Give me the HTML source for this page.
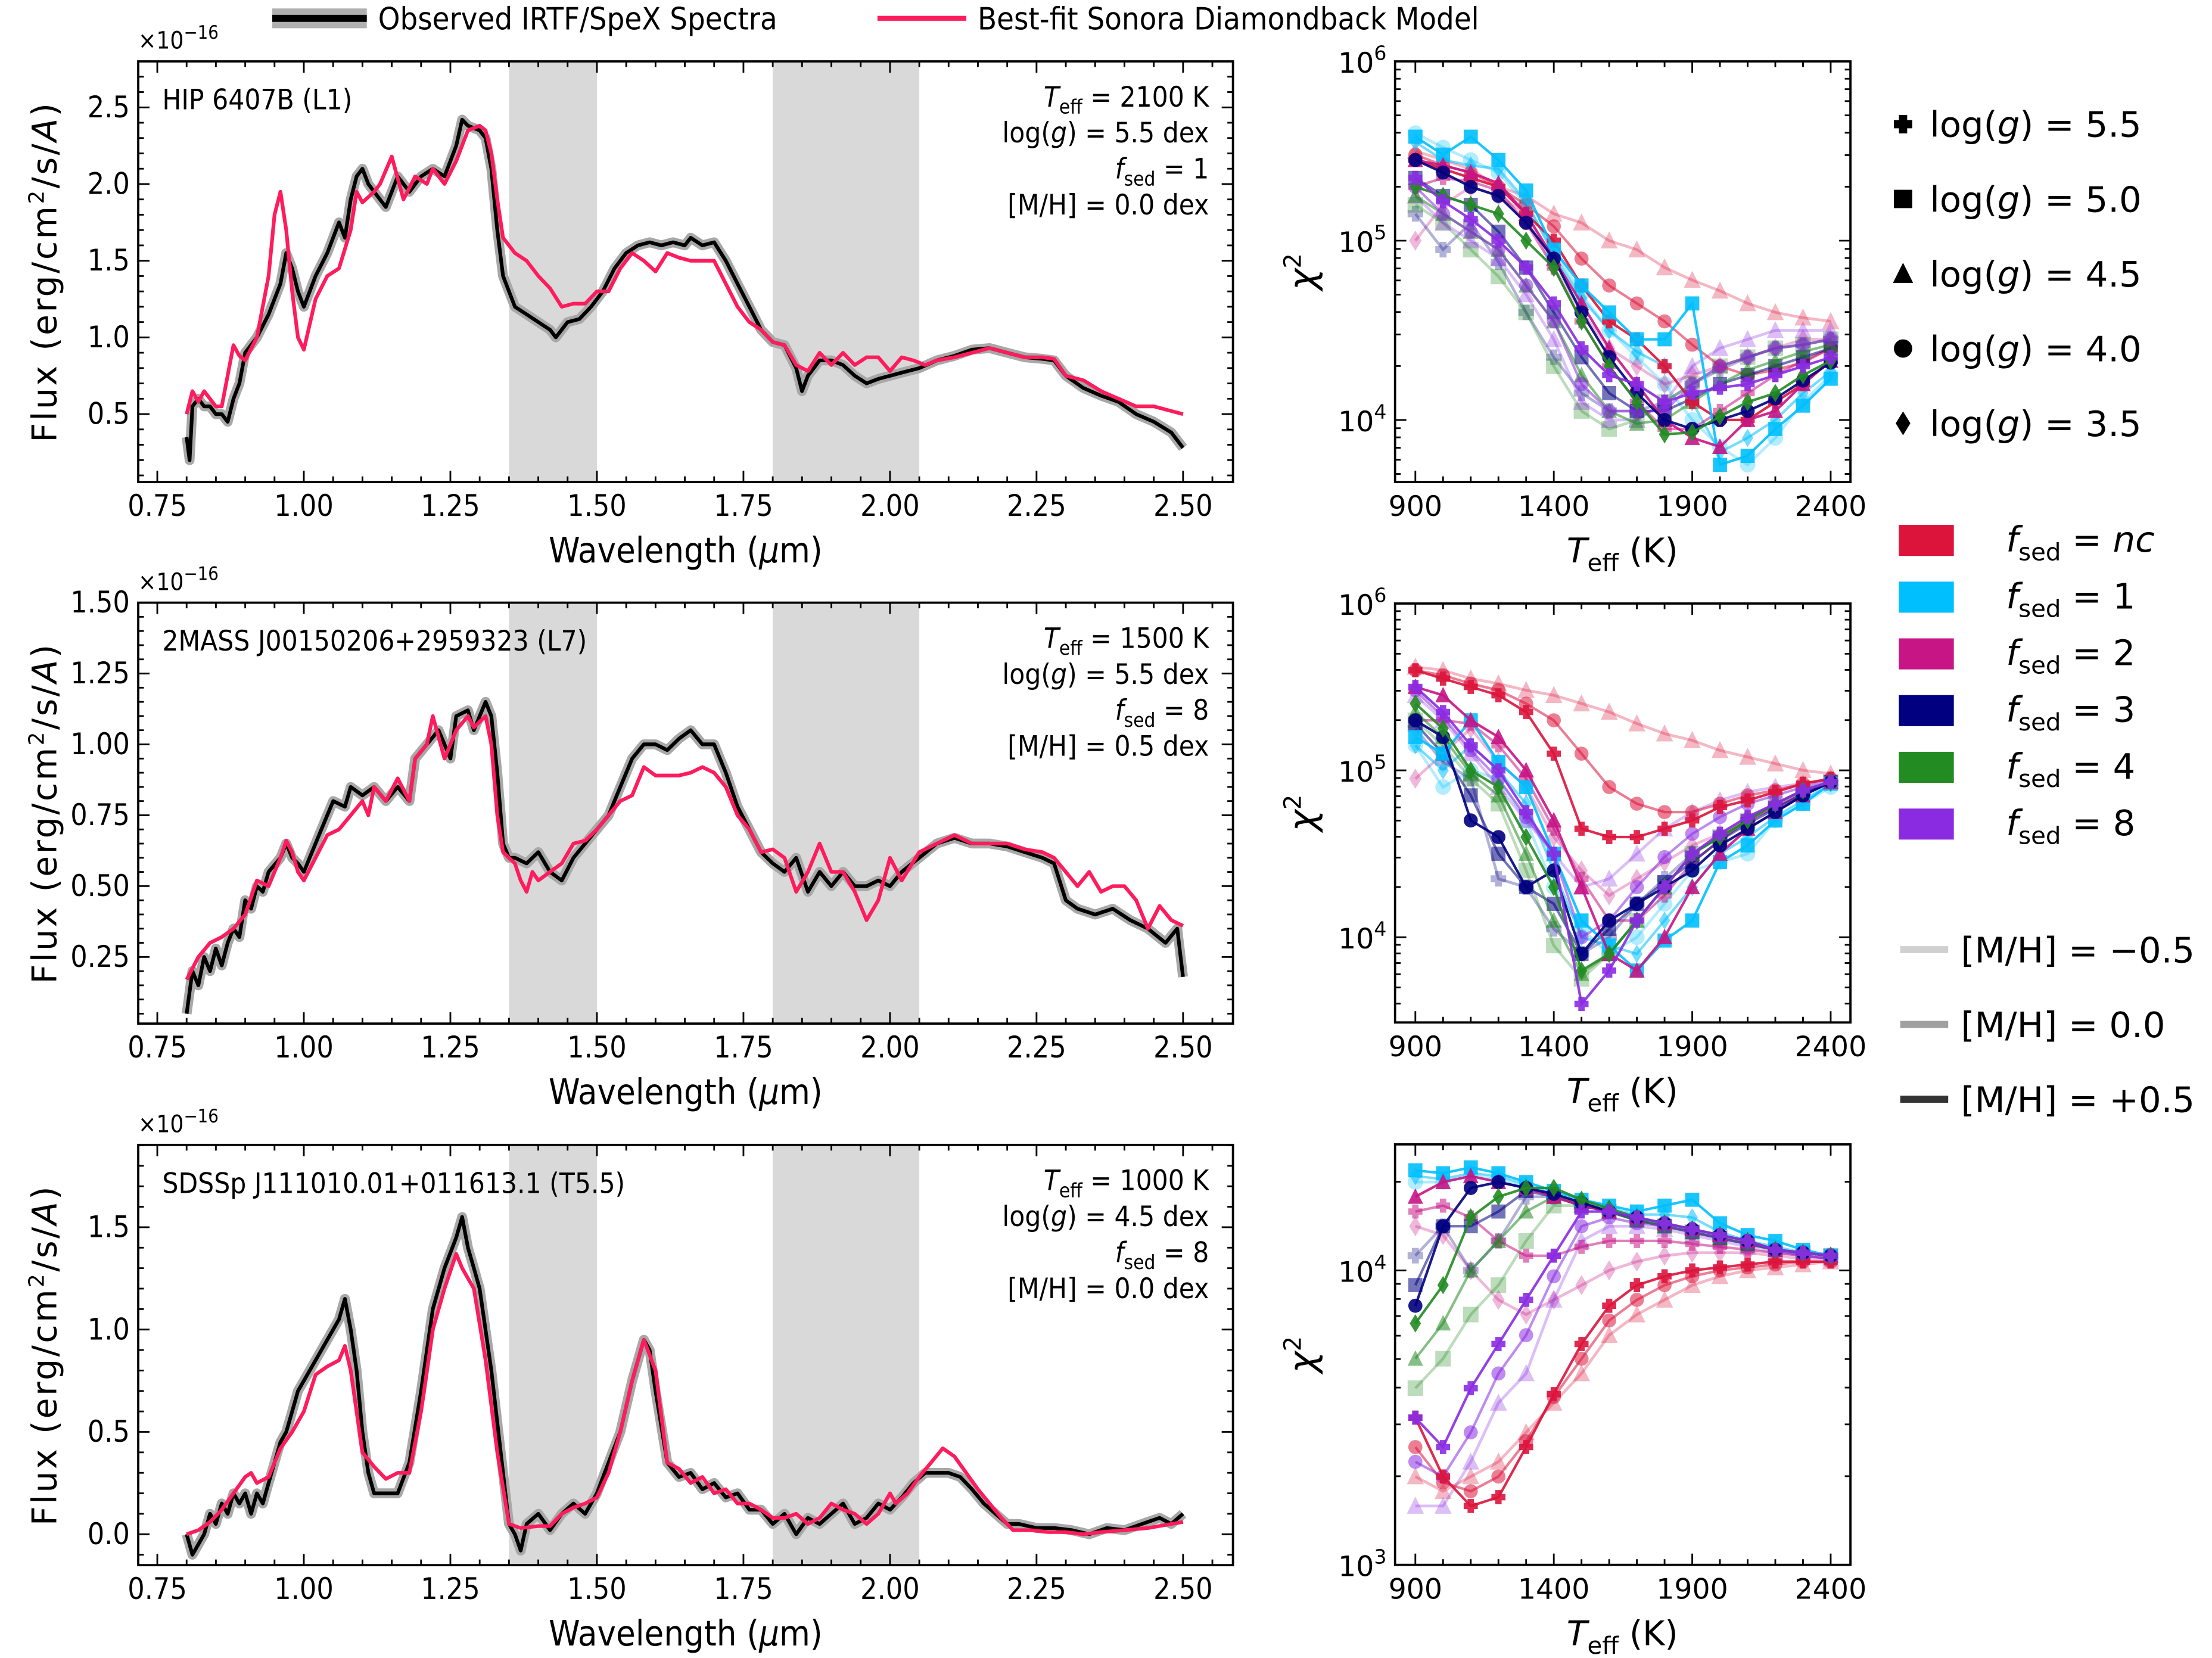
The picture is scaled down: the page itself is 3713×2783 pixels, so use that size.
<!DOCTYPE html>
<html><head><meta charset="utf-8">
<style>
html,body{margin:0;padding:0;background:#fff;}
svg{display:block;font-family:"DejaVu Sans","Liberation Sans",sans-serif;}
.cond{font-family:"DejaVu Sans Condensed","DejaVu Sans","Liberation Sans",sans-serif;font-stretch:condensed;}
</style></head>
<body>
<svg id="fig" width="3713" height="2783" viewBox="0 0 1568 1175" preserveAspectRatio="none" xmlns="http://www.w3.org/2000/svg">
<defs>
<clipPath id="cl0"><rect x="98" y="43.5" width="776" height="298.1"/></clipPath>
<clipPath id="cl1"><rect x="98" y="427.1" width="776" height="298.3"/></clipPath>
<clipPath id="cl2"><rect x="98" y="811.4" width="776" height="297.8"/></clipPath>
<clipPath id="cc0"><rect x="988.9" y="43.5" width="322.8" height="298.1"/></clipPath>
<clipPath id="cc1"><rect x="988.9" y="427.7" width="322.8" height="296.9"/></clipPath>
<clipPath id="cc2"><rect x="988.9" y="811" width="322.8" height="298"/></clipPath>
</defs>
<g id="root"></g>
</svg>
<script>
// ---------- spectra data ----------
const p1Obs=[[0.80,0.35],[0.805,0.2],[0.81,0.55],[0.82,0.6],[0.83,0.55],[0.84,0.55],[0.85,0.5],[0.86,0.5],[0.87,0.45],[0.88,0.6],[0.89,0.7],[0.90,0.9],[0.92,1.0],[0.94,1.15],[0.96,1.35],[0.97,1.55],[0.98,1.45],[0.99,1.3],[1.00,1.2],[1.02,1.4],[1.04,1.55],[1.06,1.75],[1.07,1.65],[1.08,1.9],[1.09,2.05],[1.10,2.1],[1.11,2.0],[1.12,1.95],[1.14,1.85],[1.16,2.05],[1.18,1.95],[1.20,2.05],[1.22,2.1],[1.24,2.05],[1.26,2.25],[1.27,2.42],[1.28,2.38],[1.30,2.35],[1.31,2.3],[1.32,2.1],[1.33,1.7],[1.34,1.4],[1.35,1.3],[1.36,1.2],[1.38,1.15],[1.40,1.1],[1.42,1.05],[1.43,1.0],[1.45,1.1],[1.47,1.12],[1.49,1.2],[1.51,1.3],[1.53,1.45],[1.55,1.55],[1.57,1.6],[1.59,1.62],[1.61,1.6],[1.63,1.62],[1.65,1.6],[1.66,1.65],[1.68,1.6],[1.70,1.62],[1.72,1.5],[1.74,1.35],[1.76,1.2],[1.78,1.05],[1.80,0.97],[1.82,0.95],[1.84,0.8],[1.85,0.65],[1.86,0.75],[1.88,0.85],[1.90,0.85],[1.92,0.82],[1.94,0.75],[1.96,0.7],[1.98,0.73],[2.00,0.75],[2.02,0.77],[2.05,0.8],[2.08,0.85],[2.11,0.88],[2.14,0.92],[2.17,0.93],[2.20,0.9],[2.23,0.87],[2.26,0.86],[2.28,0.85],[2.30,0.75],[2.33,0.67],[2.36,0.62],[2.39,0.58],[2.42,0.5],[2.45,0.45],[2.48,0.38],[2.50,0.28]];
const p1Mod=[[0.80,0.5],[0.81,0.65],[0.82,0.58],[0.83,0.65],[0.85,0.55],[0.86,0.55],[0.88,0.95],[0.89,0.88],[0.90,0.85],[0.92,1.0],[0.94,1.4],[0.95,1.8],[0.96,1.95],[0.97,1.7],[0.98,1.3],[0.99,1.0],[1.00,0.92],[1.02,1.25],[1.04,1.4],[1.06,1.45],[1.08,1.7],[1.09,1.95],[1.10,1.88],[1.12,1.95],[1.13,2.0],[1.15,2.18],[1.17,1.9],[1.19,2.05],[1.21,2.0],[1.22,2.1],[1.24,2.0],[1.26,2.15],[1.28,2.35],[1.30,2.38],[1.31,2.35],[1.32,2.2],[1.33,1.9],[1.34,1.65],[1.36,1.55],[1.38,1.5],[1.40,1.4],[1.42,1.32],[1.44,1.2],[1.46,1.22],[1.48,1.22],[1.50,1.3],[1.52,1.3],[1.54,1.45],[1.56,1.55],[1.58,1.5],[1.60,1.43],[1.62,1.55],[1.64,1.52],[1.66,1.5],[1.68,1.5],[1.70,1.5],[1.72,1.35],[1.74,1.2],[1.76,1.1],[1.78,1.05],[1.80,0.97],[1.82,0.95],[1.84,0.82],[1.86,0.78],[1.88,0.9],[1.90,0.82],[1.92,0.9],[1.94,0.82],[1.96,0.87],[1.98,0.87],[2.00,0.78],[2.02,0.87],[2.04,0.85],[2.06,0.82],[2.08,0.85],[2.11,0.87],[2.14,0.9],[2.17,0.93],[2.20,0.9],[2.23,0.87],[2.26,0.87],[2.28,0.86],[2.30,0.75],[2.33,0.72],[2.36,0.65],[2.39,0.6],[2.42,0.55],[2.45,0.55],[2.48,0.52],[2.50,0.5]];
const p2Obs=[[0.80,0.05],[0.81,0.2],[0.82,0.15],[0.83,0.25],[0.84,0.2],[0.85,0.28],[0.86,0.22],[0.87,0.3],[0.88,0.35],[0.89,0.32],[0.90,0.45],[0.91,0.42],[0.92,0.5],[0.93,0.48],[0.94,0.55],[0.96,0.6],[0.97,0.65],[0.98,0.6],[0.99,0.58],[1.00,0.55],[1.01,0.6],[1.03,0.7],[1.05,0.8],[1.07,0.78],[1.08,0.85],[1.10,0.82],[1.12,0.85],[1.14,0.8],[1.16,0.85],[1.18,0.8],[1.19,0.95],[1.21,1.0],[1.23,1.05],[1.25,0.95],[1.26,1.1],[1.28,1.12],[1.29,1.05],[1.31,1.15],[1.32,1.1],[1.33,0.9],[1.34,0.65],[1.35,0.6],[1.36,0.6],[1.38,0.58],[1.40,0.62],[1.42,0.55],[1.44,0.52],[1.46,0.6],[1.48,0.65],[1.50,0.7],[1.52,0.75],[1.54,0.85],[1.56,0.95],[1.58,1.0],[1.60,1.0],[1.62,0.98],[1.64,1.02],[1.66,1.05],[1.68,1.0],[1.70,1.0],[1.72,0.9],[1.74,0.78],[1.76,0.7],[1.78,0.62],[1.80,0.58],[1.82,0.55],[1.84,0.6],[1.86,0.48],[1.88,0.55],[1.90,0.5],[1.92,0.55],[1.94,0.5],[1.96,0.5],[1.98,0.52],[2.00,0.5],[2.02,0.55],[2.05,0.6],[2.08,0.65],[2.11,0.67],[2.14,0.65],[2.17,0.65],[2.20,0.64],[2.23,0.62],[2.26,0.6],[2.28,0.58],[2.30,0.45],[2.32,0.42],[2.35,0.4],[2.38,0.42],[2.41,0.38],[2.44,0.35],[2.47,0.3],[2.49,0.35],[2.50,0.18]];
const p2Mod=[[0.80,0.17],[0.82,0.25],[0.84,0.3],[0.86,0.32],[0.88,0.35],[0.90,0.4],[0.92,0.52],[0.94,0.5],[0.96,0.6],[0.97,0.66],[0.98,0.62],[0.99,0.55],[1.00,0.52],[1.02,0.6],[1.04,0.68],[1.06,0.7],[1.08,0.75],[1.10,0.8],[1.11,0.75],[1.12,0.85],[1.14,0.8],[1.16,0.88],[1.18,0.8],[1.19,0.95],[1.21,1.0],[1.22,1.1],[1.24,0.95],[1.26,1.05],[1.28,1.1],[1.29,1.06],[1.31,1.1],[1.32,1.0],[1.33,0.75],[1.34,0.62],[1.36,0.58],[1.37,0.52],[1.38,0.48],[1.39,0.55],[1.40,0.52],[1.42,0.55],[1.44,0.58],[1.46,0.65],[1.48,0.66],[1.50,0.7],[1.52,0.75],[1.54,0.8],[1.56,0.82],[1.58,0.92],[1.60,0.89],[1.62,0.89],[1.64,0.89],[1.66,0.9],[1.68,0.92],[1.70,0.9],[1.72,0.85],[1.74,0.75],[1.76,0.7],[1.78,0.62],[1.80,0.63],[1.82,0.6],[1.84,0.48],[1.86,0.55],[1.88,0.65],[1.90,0.55],[1.92,0.55],[1.94,0.48],[1.96,0.38],[1.98,0.45],[2.00,0.6],[2.02,0.52],[2.05,0.62],[2.08,0.65],[2.11,0.68],[2.14,0.65],[2.17,0.65],[2.20,0.65],[2.23,0.63],[2.26,0.62],[2.28,0.6],[2.30,0.55],[2.32,0.5],[2.34,0.55],[2.36,0.48],[2.38,0.5],[2.40,0.5],[2.42,0.45],[2.44,0.35],[2.46,0.43],[2.48,0.38],[2.50,0.36]];
const p3Obs=[[0.80,0.0],[0.81,-0.1],[0.82,-0.05],[0.83,0.0],[0.84,0.1],[0.85,0.05],[0.86,0.15],[0.87,0.1],[0.88,0.2],[0.89,0.15],[0.90,0.2],[0.91,0.1],[0.92,0.2],[0.93,0.15],[0.94,0.25],[0.95,0.35],[0.96,0.45],[0.97,0.5],[0.98,0.6],[0.99,0.7],[1.00,0.75],[1.02,0.85],[1.04,0.95],[1.06,1.05],[1.07,1.15],[1.08,1.0],[1.09,0.8],[1.10,0.5],[1.11,0.3],[1.12,0.2],[1.14,0.2],[1.16,0.2],[1.18,0.35],[1.20,0.7],[1.22,1.1],[1.24,1.3],[1.26,1.45],[1.27,1.55],[1.28,1.4],[1.29,1.3],[1.30,1.2],[1.32,0.8],[1.34,0.3],[1.35,0.05],[1.36,0.0],[1.37,-0.08],[1.38,0.05],[1.40,0.1],[1.42,0.02],[1.44,0.1],[1.46,0.15],[1.48,0.1],[1.50,0.2],[1.52,0.35],[1.54,0.5],[1.56,0.75],[1.58,0.95],[1.59,0.9],[1.60,0.7],[1.62,0.35],[1.64,0.28],[1.66,0.3],[1.68,0.22],[1.70,0.25],[1.72,0.18],[1.74,0.2],[1.76,0.12],[1.78,0.12],[1.80,0.05],[1.82,0.1],[1.84,0.0],[1.86,0.08],[1.88,0.05],[1.90,0.1],[1.92,0.15],[1.94,0.05],[1.96,0.08],[1.98,0.15],[2.00,0.12],[2.02,0.18],[2.04,0.25],[2.06,0.3],[2.08,0.3],[2.10,0.3],[2.12,0.28],[2.14,0.22],[2.16,0.15],[2.18,0.1],[2.20,0.05],[2.22,0.05],[2.25,0.03],[2.28,0.03],[2.31,0.02],[2.34,0.0],[2.37,0.03],[2.40,0.02],[2.43,0.05],[2.46,0.08],[2.48,0.05],[2.50,0.1]];
const p3Mod=[[0.80,0.0],[0.82,0.02],[0.84,0.06],[0.86,0.12],[0.88,0.2],[0.90,0.28],[0.91,0.3],[0.92,0.25],[0.94,0.28],[0.96,0.42],[0.98,0.5],[1.00,0.6],[1.02,0.78],[1.04,0.82],[1.06,0.85],[1.07,0.92],[1.08,0.8],[1.10,0.4],[1.12,0.33],[1.14,0.27],[1.16,0.3],[1.18,0.3],[1.20,0.6],[1.22,1.0],[1.24,1.2],[1.26,1.37],[1.27,1.3],[1.29,1.2],[1.31,0.85],[1.33,0.4],[1.35,0.05],[1.37,0.03],[1.40,0.04],[1.42,0.04],[1.44,0.1],[1.46,0.13],[1.48,0.15],[1.50,0.18],[1.52,0.3],[1.54,0.5],[1.56,0.75],[1.58,0.95],[1.60,0.8],[1.62,0.35],[1.64,0.32],[1.66,0.25],[1.68,0.28],[1.70,0.2],[1.72,0.22],[1.74,0.15],[1.76,0.15],[1.78,0.12],[1.80,0.08],[1.82,0.08],[1.84,0.1],[1.86,0.05],[1.88,0.08],[1.90,0.15],[1.92,0.12],[1.94,0.1],[1.96,0.05],[1.98,0.1],[2.00,0.2],[2.01,0.15],[2.03,0.2],[2.05,0.28],[2.07,0.35],[2.09,0.42],[2.11,0.38],[2.13,0.3],[2.15,0.22],[2.17,0.15],[2.19,0.08],[2.21,0.02],[2.24,0.02],[2.27,0.01],[2.30,0.01],[2.33,0.0],[2.36,0.01],[2.40,0.02],[2.44,0.03],[2.48,0.05],[2.50,0.06]];

// ---------- chi2 data (log10 chi2) ----------
const teffGrid=[900,1000,1100,1200,1300,1400,1500,1600,1700,1800,1900,2000,2100,2200,2300,2400];
const fsedNames=['nc','1','2','3','4','8'];
const fsedColors=['#dc143c','#00bfff','#c71585','#000080','#228b22','#8a2be2'];
const c1Strong=[[5.45,5.4,5.35,5.3,5.15,5.0,4.75,4.55,4.45,4.3,4.1,4.0,4.0,4.1,4.2,4.33],[5.58,5.48,5.58,5.45,5.28,4.95,4.75,4.6,4.45,4.45,4.65,3.75,3.8,3.95,4.08,4.23],[5.45,5.42,5.38,5.32,5.15,4.9,4.65,4.4,4.2,4.0,3.9,3.85,4.0,4.05,4.2,4.33],[5.45,5.38,5.3,5.25,5.1,4.9,4.6,4.35,4.15,4.0,3.95,4.0,4.05,4.12,4.22,4.32],[5.3,5.25,5.2,5.15,5.0,4.85,4.55,4.3,4.1,3.92,3.93,4.02,4.1,4.15,4.25,4.33],[5.35,5.22,5.12,5.0,4.85,4.65,4.4,4.25,4.2,4.1,4.15,4.18,4.2,4.25,4.3,4.35]];
const c1Mid=[[5.48,5.42,5.38,5.3,5.2,5.08,4.9,4.75,4.65,4.55,4.42,4.3,4.25,4.28,4.32,4.4],[5.55,5.45,5.42,5.4,5.22,4.92,4.68,4.5,4.38,4.3,4.1,3.82,3.9,4.0,4.15,4.27],[5.3,5.35,5.33,5.28,5.1,4.85,4.55,4.3,4.1,3.95,3.95,4.05,4.15,4.25,4.33,4.4],[5.35,5.25,5.2,5.05,4.85,4.6,4.35,4.15,4.05,4.05,4.12,4.2,4.25,4.3,4.35,4.4],[5.25,5.15,5.05,4.95,4.75,4.55,4.25,4.05,3.98,4.0,4.1,4.2,4.28,4.33,4.38,4.42],[5.3,5.15,5.05,4.95,4.75,4.55,4.2,4.05,4.05,4.05,4.2,4.3,4.35,4.4,4.42,4.45]];
const c1Faint=[[5.5,5.45,5.4,5.3,5.25,5.15,5.1,5.0,4.95,4.85,4.78,4.72,4.65,4.6,4.57,4.55],[5.6,5.52,5.45,5.38,5.2,4.95,4.7,4.5,4.35,4.2,4.0,3.85,3.75,3.9,4.1,4.25],[5.0,5.2,5.3,5.25,5.15,4.85,4.6,4.4,4.3,4.2,4.25,4.3,4.35,4.4,4.45,4.45],[5.15,4.95,5.1,4.88,4.6,4.35,4.15,4.05,4.05,4.1,4.2,4.28,4.35,4.4,4.42,4.45],[5.2,5.1,4.95,4.8,4.6,4.3,4.05,3.95,4.0,4.1,4.2,4.3,4.35,4.4,4.42,4.45],[5.25,5.1,5.0,4.9,4.7,4.45,4.1,4.0,4.0,4.1,4.3,4.4,4.45,4.5,4.5,4.5]];
const c2Strong=[[5.6,5.55,5.5,5.45,5.35,5.1,4.65,4.6,4.6,4.65,4.7,4.78,4.82,4.87,4.92,4.95],[5.2,5.1,5.3,5.05,4.9,4.5,4.1,3.95,3.8,3.98,4.1,4.45,4.55,4.7,4.8,4.92],[5.5,5.45,5.3,5.2,5.0,4.7,4.3,3.9,3.8,4.0,4.3,4.5,4.65,4.75,4.85,4.93],[5.3,5.2,4.7,4.6,4.3,4.4,3.9,4.1,4.2,4.3,4.4,4.55,4.65,4.75,4.85,4.93],[5.4,5.25,5.0,4.9,4.6,4.3,3.8,3.9,4.1,4.3,4.5,4.6,4.7,4.8,4.88,4.93],[5.5,5.35,5.15,5.0,4.75,4.5,3.6,3.8,4.1,4.3,4.5,4.62,4.72,4.8,4.88,4.93]];
const c2Mid=[[5.6,5.57,5.52,5.48,5.4,5.3,5.1,4.9,4.8,4.75,4.75,4.8,4.85,4.88,4.92,4.95],[5.15,5.0,5.15,5.0,4.8,4.4,4.0,3.95,3.9,4.1,4.3,4.5,4.6,4.72,4.82,4.92],[5.3,5.3,5.28,5.15,4.95,4.65,4.35,4.1,4.1,4.25,4.45,4.58,4.7,4.78,4.86,4.93],[5.28,5.1,4.85,4.5,4.3,4.2,3.9,4.05,4.2,4.33,4.45,4.58,4.68,4.77,4.86,4.93],[5.35,5.2,4.98,4.85,4.5,4.1,3.78,3.9,4.1,4.3,4.5,4.6,4.7,4.8,4.88,4.93],[5.48,5.32,5.12,4.95,4.72,4.5,4.0,4.1,4.3,4.48,4.62,4.72,4.8,4.85,4.9,4.94]];
const c2Faint=[[5.62,5.6,5.55,5.52,5.48,5.45,5.4,5.35,5.28,5.22,5.18,5.12,5.08,5.04,5.0,4.98],[5.15,4.9,5.0,4.95,4.7,4.3,4.05,3.9,4.0,4.2,4.4,4.45,4.5,4.7,4.8,4.9],[4.95,5.1,5.25,5.05,4.9,4.6,4.4,4.25,4.35,4.45,4.55,4.62,4.72,4.8,4.88,4.93],[5.25,5.05,4.95,4.35,4.3,4.05,3.9,4.0,4.2,4.35,4.5,4.6,4.7,4.78,4.87,4.93],[5.3,5.15,4.95,4.8,4.4,3.95,3.75,3.9,4.1,4.3,4.5,4.6,4.7,4.8,4.88,4.93],[5.45,5.3,5.1,4.9,4.7,4.5,4.3,4.35,4.5,4.65,4.75,4.82,4.87,4.9,4.92,4.95]];
const c3Strong=[[3.5,3.3,3.2,3.23,3.4,3.58,3.75,3.88,3.95,3.98,4.0,4.01,4.02,4.03,4.03,4.03],[4.34,4.33,4.35,4.33,4.3,4.27,4.24,4.22,4.2,4.22,4.24,4.16,4.12,4.1,4.07,4.05],[4.25,4.3,4.32,4.3,4.28,4.25,4.22,4.2,4.18,4.16,4.14,4.12,4.1,4.07,4.06,4.05],[3.88,4.15,4.28,4.3,4.28,4.26,4.23,4.2,4.18,4.16,4.14,4.12,4.1,4.07,4.06,4.05],[3.82,3.95,4.18,4.25,4.28,4.28,4.24,4.21,4.18,4.16,4.14,4.12,4.1,4.07,4.06,4.05],[3.5,3.4,3.6,3.75,3.9,4.05,4.2,4.2,4.18,4.16,4.14,4.12,4.1,4.07,4.06,4.05]];
const c3Mid=[[3.4,3.28,3.25,3.3,3.42,3.57,3.7,3.83,3.9,3.95,3.98,4.0,4.01,4.02,4.03,4.03],[4.32,4.31,4.33,4.32,4.29,4.26,4.23,4.21,4.19,4.19,4.18,4.13,4.1,4.08,4.06,4.05],[4.2,4.22,4.18,4.1,4.05,4.05,4.08,4.1,4.1,4.1,4.09,4.08,4.07,4.06,4.05,4.04],[3.95,4.15,4.15,4.2,4.27,4.25,4.22,4.2,4.17,4.15,4.13,4.11,4.09,4.07,4.06,4.05],[3.7,3.82,4.0,4.1,4.2,4.25,4.23,4.2,4.17,4.15,4.13,4.11,4.09,4.07,4.06,4.05],[3.35,3.3,3.45,3.65,3.78,3.98,4.15,4.18,4.16,4.15,4.13,4.11,4.09,4.07,4.05,4.04]];
const c3Faint=[[3.3,3.25,3.3,3.35,3.45,3.55,3.65,3.78,3.85,3.9,3.95,3.98,4.0,4.01,4.02,4.03],[4.3,4.3,4.32,4.31,4.28,4.25,4.22,4.2,4.18,4.16,4.13,4.11,4.09,4.07,4.05,4.04],[4.15,4.12,4.0,3.9,3.85,3.9,3.95,4.0,4.03,4.05,4.06,4.06,4.06,4.05,4.04,4.04],[4.05,4.15,4.0,4.1,4.25,4.25,4.22,4.2,4.17,4.15,4.13,4.11,4.09,4.07,4.06,4.05],[3.6,3.7,3.85,3.95,4.1,4.22,4.22,4.2,4.17,4.15,4.13,4.11,4.09,4.07,4.06,4.05],[3.2,3.2,3.35,3.55,3.65,3.9,4.1,4.15,4.15,4.14,4.12,4.1,4.08,4.06,4.05,4.04]];

// ---------- layout ----------
const NS='http://www.w3.org/2000/svg';
const root=document.getElementById('root');
function mk(tag,attrs,parent){const e=document.createElementNS(NS,tag);for(const k in attrs)e.setAttribute(k,attrs[k]);(parent||root).appendChild(e);return e;}
const LX0=98,LX1=874;
function xs(l){return 111.5+(l-0.75)*415.5;}
const specPanels=[
 {top:43.5,bot:341.6,ymax:2.80,ymin:0.057,major:[0.5,1.0,1.5,2.0,2.5],labels:['0.5','1.0','1.5','2.0','2.5'],minorStep:0.1,obs:p1Obs,mod:p1Mod,name:'HIP 6407B (L1)',teff:'2100',logg:'5.5',fsed:'1',mh:'0.0'},
 {top:427.1,bot:725.4,ymax:1.50,ymin:0.015,major:[0.25,0.5,0.75,1.0,1.25,1.5],labels:['0.25','0.50','0.75','1.00','1.25','1.50'],minorStep:0.05,obs:p2Obs,mod:p2Mod,name:'2MASS J00150206+2959323 (L7)',teff:'1500',logg:'5.5',fsed:'8',mh:'0.5'},
 {top:811.4,bot:1109.2,ymax:1.902,ymin:-0.151,major:[0,0.5,1.0,1.5],labels:['0.0','0.5','1.0','1.5'],minorStep:0.1,obs:p3Obs,mod:p3Mod,name:'SDSSp J111010.01+011613.1 (T5.5)',teff:'1000',logg:'4.5',fsed:'8',mh:'0.0'}];
const xMajor=[0.75,1.0,1.25,1.5,1.75,2.0,2.25,2.5];
const xMajorLab=['0.75','1.00','1.25','1.50','1.75','2.00','2.25','2.50'];

specPanels.forEach((p,i)=>{
  const ys=v=>p.top+(p.ymax-v)/(p.ymax-p.ymin)*(p.bot-p.top);
  const g=mk('g',{class:'cond'});
  
  
  const dg=mk('g',{'clip-path':'url(#cl'+i+')'},g);
  [[1.35,1.50],[1.80,2.05]].forEach((b,j)=>{
    const r=mk('rect',{x:xs(b[0]),y:p.top,width:xs(b[1])-xs(b[0]),height:p.bot-p.top,fill:'#d9d9d9'},dg);
    
    
  });
  const pts=a=>a.map(d=>xs(d[0]).toFixed(1)+','+ys(d[1]).toFixed(1)).join(' ');
  const unc=mk('polyline',{points:pts(p.obs),fill:'none',stroke:'#a8a8a8','stroke-width':7,'stroke-linejoin':'round'},dg);
  
  
  const ob=mk('polyline',{points:pts(p.obs),fill:'none',stroke:'#000','stroke-width':2.6,'stroke-linejoin':'round'},dg);
  
  
  const md=mk('polyline',{points:pts(p.mod),fill:'none',stroke:'#ff1c5c','stroke-width':2.6,'stroke-linejoin':'round'},dg);
  
  
  for(let k=0;k<=40;k++){const l=0.70+k*0.05;const x=xs(l);if(x<LX0||x>LX1)continue;
    const isM=Math.abs(((l-0.75)/0.25)-Math.round((l-0.75)/0.25))<1e-6;const L=isM?8:4;
    mk('line',{x1:x,x2:x,y1:p.bot,y2:p.bot-L,stroke:'#000','stroke-width':1.2},g);
    mk('line',{x1:x,x2:x,y1:p.top,y2:p.top+L,stroke:'#000','stroke-width':1.2},g);}
  for(let v=Math.ceil(p.ymin/p.minorStep)*p.minorStep;v<=p.ymax+1e-9;v+=p.minorStep){
    const y=ys(v);const isM=p.major.some(m=>Math.abs(m-v)<1e-6);const L=isM?8:4;
    mk('line',{x1:LX0,x2:LX0+L,y1:y,y2:y,stroke:'#000','stroke-width':1.2},g);
    mk('line',{x1:LX1,x2:LX1-L,y1:y,y2:y,stroke:'#000','stroke-width':1.2},g);}
  xMajor.forEach((l,k)=>{const t=mk('text',{x:xs(l),y:p.bot+24,'font-size':21,'text-anchor':'middle'},g);t.textContent=xMajorLab[k];
    
    });
  p.major.forEach((v,k)=>{const t=mk('text',{x:LX0-6,y:ys(v)+7,'font-size':21,'text-anchor':'end'},g);t.textContent=p.labels[k];
    
    });
  mk('rect',{x:LX0,y:p.top,width:LX1-LX0,height:p.bot-p.top,fill:'none',stroke:'#000','stroke-width':1.6},g);
  const off=mk('text',{x:98,y:p.top-9,'font-size':17},g);off.innerHTML='×10<tspan dy="-7" font-size="13">−16</tspan>';
  
  
  const nm=mk('text',{x:115,y:p.top+34,'font-size':20},g);nm.textContent=p.name;
  
  
  const ax=857;const ann=[
   '<tspan font-style="italic">T</tspan><tspan font-size="14" dy="5">eff</tspan><tspan dy="-5"> = '+p.teff+' K</tspan>',
   'log(<tspan font-style="italic">g</tspan>) = '+p.logg+' dex',
   '<tspan font-style="italic">f</tspan><tspan font-size="14" dy="5">sed</tspan><tspan dy="-5"> = '+p.fsed+'</tspan>',
   '[M/H] = '+p.mh+' dex'];
  ann.forEach((h,k)=>{const t=mk('text',{x:ax,y:p.top+32+k*25.5,'font-size':20,'text-anchor':'end'},g);t.innerHTML=h;
    
    });
  const xl=mk('text',{x:486,y:p.bot+57,'font-size':25,'text-anchor':'middle'},g);xl.innerHTML='Wavelength (<tspan font-style="italic">μ</tspan>m)';
  
  
  const yc=(p.top+p.bot)/2;
  const yl=mk('text',{x:0,y:0,'font-size':24,'text-anchor':'middle','letter-spacing':'1.5',style:'font-family:"DejaVu Sans",sans-serif;font-stretch:normal',transform:'translate(40,'+yc+') rotate(-90)'},g);
  yl.innerHTML='Flux (erg/cm<tspan dy="-9" font-size="15">2</tspan><tspan dy="9">/s/</tspan><tspan font-style="italic">A</tspan>)';
  
  
});

// ---------- chi2 panels ----------
const CX0=988.9,CX1=1311.7;
function tx(T){return 1003.3+(T-900)*0.19627;}
const chiPanels=[
 {top:43.5,bot:341.6,lmax:6,lmin:3.654,strong:c1Strong,mid:c1Mid,faint:c1Faint,decs:[4,5,6]},
 {top:427.7,bot:724.6,lmax:6,lmin:3.489,strong:c2Strong,mid:c2Mid,faint:c2Faint,decs:[4,5,6]},
 {top:811,bot:1109,lmax:4.428,lmin:3,strong:c3Strong,mid:c3Mid,faint:c3Faint,decs:[3,4]}];
const markerKinds=['plus','square','triangle','circle','diamond'];
function marker(kind,x,y,s,col,op,parent){
  let e;
  if(kind==='square')e=mk('rect',{x:x-s,y:y-s,width:2*s,height:2*s},parent);
  else if(kind==='circle')e=mk('circle',{cx:x,cy:y,r:s},parent);
  else if(kind==='triangle')e=mk('polygon',{points:`${x},${y-s*1.2} ${x-s*1.1},${y+s} ${x+s*1.1},${y+s}`},parent);
  else if(kind==='diamond')e=mk('polygon',{points:`${x},${y-s*1.3} ${x-s*0.8},${y} ${x},${y+s*1.3} ${x+s*0.8},${y}`},parent);
  else{const a=s*0.45;e=mk('polygon',{points:`${x-a},${y-s} ${x+a},${y-s} ${x+a},${y-a} ${x+s},${y-a} ${x+s},${y+a} ${x+a},${y+a} ${x+a},${y+s} ${x-a},${y+s} ${x-a},${y+a} ${x-s},${y+a} ${x-s},${y-a} ${x-a},${y-a}`},parent);}
  e.setAttribute('fill',col);e.setAttribute('fill-opacity',op);
  return e;
}
chiPanels.forEach((p,i)=>{
  const ys=v=>p.top+(p.lmax-v)/(p.lmax-p.lmin)*(p.bot-p.top);
  const g=mk('g',{});
  
  
  const dg=mk('g',{'clip-path':'url(#cc'+i+')'},g);
  const draw=(series,op,lw,ms,off)=>{series.forEach((vals,f)=>{
    const col=fsedColors[f];
    const ln=mk('polyline',{points:vals.map((v,k)=>tx(teffGrid[k]).toFixed(1)+','+ys(v).toFixed(1)).join(' '),fill:'none',stroke:col,'stroke-opacity':op,'stroke-width':lw},dg);
    
    
    const kind=markerKinds[(f+off)%5];
    vals.forEach((v,k)=>{const m=marker(kind,tx(teffGrid[k]),ys(v),ms,col,op,dg);
      
      });
  });};
  draw(p.faint,0.3,2,5.5,2);
  draw(p.mid,0.55,1.8,5,3);
  draw(p.strong,0.9,1.8,5,0);
  teffGrid.concat([800,2500]).forEach(T=>{const x=tx(T);if(x<CX0||x>CX1)return;const isM=(T-900)%500===0;const L=isM?8:4;
    mk('line',{x1:x,x2:x,y1:p.bot,y2:p.bot-L,stroke:'#000','stroke-width':1.2},g);
    mk('line',{x1:x,x2:x,y1:p.top,y2:p.top+L,stroke:'#000','stroke-width':1.2},g);});
  for(let d=Math.floor(p.lmin);d<=Math.ceil(p.lmax);d++){for(let m=1;m<10;m++){const v=d+Math.log10(m);if(v<p.lmin-1e-9||v>p.lmax+1e-9)continue;
    const y=ys(v);const L=m===1?8:4;
    mk('line',{x1:CX0,x2:CX0+L,y1:y,y2:y,stroke:'#000','stroke-width':1.2},g);
    mk('line',{x1:CX1,x2:CX1-L,y1:y,y2:y,stroke:'#000','stroke-width':1.2},g);}}
  [900,1400,1900,2400].forEach(T=>{const t=mk('text',{x:tx(T),y:p.bot+24,'font-size':20,'text-anchor':'middle'},g);t.textContent=String(T);
    
    });
  p.decs.forEach(d=>{const t=mk('text',{x:CX0-6,y:ys(d)+8,'font-size':20,'text-anchor':'end'},g);t.innerHTML='10<tspan dy="-9" font-size="14">'+d+'</tspan>';
    
    });
  mk('rect',{x:CX0,y:p.top,width:CX1-CX0,height:p.bot-p.top,fill:'none',stroke:'#000','stroke-width':1.6},g);
  const xl=mk('text',{x:1150,y:p.bot+57,'font-size':24,'text-anchor':'middle'},g);
  xl.innerHTML='<tspan font-style="italic">T</tspan><tspan font-size="17" dy="6">eff</tspan><tspan dy="-6"> (K)</tspan>';
  
  
  const yc=(p.top+p.bot)/2;
  const yl=mk('text',{x:0,y:0,'font-size':26,'text-anchor':'middle',transform:'translate(932,'+yc+') rotate(-90)'},g);
  yl.innerHTML='<tspan font-style="italic">χ</tspan><tspan dy="-10" font-size="17">2</tspan>';
  
  
});

// ---------- legends ----------
const tl=mk('g',{class:'cond'});


mk('rect',{x:193,y:6,width:67,height:14,fill:'#b0b0b0'},tl);
mk('line',{x1:193,x2:260,y1:13,y2:13,stroke:'#000','stroke-width':5},tl);
let t=mk('text',{x:268,y:21,'font-size':22},tl);t.textContent='Observed IRTF/SpeX Spectra';


mk('line',{x1:622,x2:685,y1:13,y2:13,stroke:'#ff1c5c','stroke-width':3.5},tl);
t=mk('text',{x:693,y:21,'font-size':22},tl);t.textContent='Best-fit Sonora Diamondback Model';



const loggVals=['5.5','5.0','4.5','4.0','3.5'];
const rl=mk('g',{});


loggVals.forEach((v,k)=>{const y=88+k*53;marker(markerKinds[k],1349,y,6.5,'#000',1,rl);
  const tt=mk('text',{x:1368,y:y+9,'font-size':25},rl);tt.innerHTML='log(<tspan font-style="italic">g</tspan>) = '+v;
  
  });
fsedNames.forEach((n,k)=>{const y=383+k*40.2;mk('rect',{x:1346,y:y-11,width:39,height:22,fill:fsedColors[k]},rl);
  const tt=mk('text',{x:1422,y:y+8,'font-size':25},rl);
  tt.innerHTML='<tspan font-style="italic">f</tspan><tspan font-size="17" dy="6">sed</tspan><tspan dy="-6"> = </tspan>'+(n==='nc'?'<tspan font-style="italic">nc</tspan>':n);
  
  });
const mhLab=['[M/H] = −0.5','[M/H] = 0.0','[M/H] = +0.5'];
const mhCol=['#d0d0d0','#a0a0a0','#333333'];
mhLab.forEach((s,k)=>{const y=673+k*53;mk('line',{x1:1347,x2:1381,y1:y,y2:y,stroke:mhCol[k],'stroke-width':5},rl);
  const tt=mk('text',{x:1390,y:y+9,'font-size':25},rl);tt.textContent=s;
  
  });
</script>
</body></html>
